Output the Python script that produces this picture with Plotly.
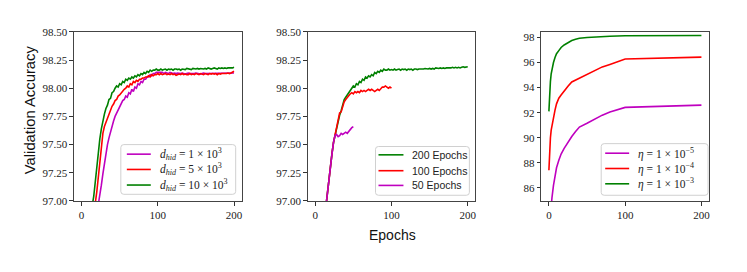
import plotly.graph_objects as go

# ---------------- data ----------------
# Panel 1: hidden dimension (epochs 0..200 step 2)
p1_epochs = list(range(0, 201, 2))
p1_d1 = [94.6, 94.95, 95.3, 95.6, 95.85, 96.08, 96.3, 96.5, 96.66, 96.8,
         96.9, 96.97, 97.04, 97.14, 97.24, 97.34, 97.42, 97.5, 97.56, 97.62,
         97.67, 97.71, 97.75, 97.78, 97.81, 97.84, 97.86, 97.89, 97.9, 97.93,
         97.92, 97.96, 97.95, 97.99, 97.97, 98.01, 98.0, 98.04, 98.03, 98.06,
         98.05, 98.08, 98.08, 98.1, 98.1, 98.12, 98.11, 98.13, 98.13, 98.14,
         98.14,
         98.14, 98.135, 98.14, 98.13, 98.14, 98.135, 98.13, 98.14, 98.135, 98.13,
         98.135, 98.13, 98.135, 98.13, 98.13, 98.135, 98.13, 98.125, 98.13, 98.135,
         98.13, 98.13, 98.125, 98.13, 98.135, 98.13, 98.13, 98.125, 98.13, 98.135,
         98.13, 98.13, 98.135, 98.13, 98.13, 98.135, 98.13, 98.13, 98.135, 98.13,
         98.13, 98.135, 98.13, 98.13, 98.135, 98.13, 98.135, 98.13, 98.135, 98.135]
p1_d5 = [94.9, 95.3, 95.65, 95.95, 96.2, 96.42, 96.62, 96.78, 96.9, 96.98,
         97.08, 97.22, 97.38, 97.52, 97.6, 97.66, 97.7, 97.74, 97.78, 97.8,
         97.84, 97.86, 97.89, 97.9, 97.93, 97.94, 97.96, 97.97, 97.99, 98.0,
         98.02, 98.01, 98.04, 98.03, 98.06, 98.05, 98.07, 98.06, 98.08, 98.08,
         98.09, 98.09, 98.1, 98.1, 98.11, 98.1, 98.12, 98.11, 98.12, 98.12,
         98.13,
         98.12, 98.13, 98.12, 98.125, 98.13, 98.12, 98.125, 98.12, 98.13, 98.12,
         98.125, 98.115, 98.12, 98.125, 98.12, 98.13, 98.12, 98.125, 98.12, 98.12,
         98.13, 98.12, 98.125, 98.12, 98.13, 98.125, 98.12, 98.13, 98.125, 98.12,
         98.13, 98.125, 98.12, 98.13, 98.125, 98.13, 98.125, 98.13, 98.12, 98.13,
         98.125, 98.13, 98.13, 98.125, 98.13, 98.135, 98.13, 98.135, 98.14, 98.15]
p1_d10 = [95.3, 95.7, 96.0, 96.3, 96.55, 96.72, 96.85, 96.96, 97.04, 97.18,
          97.32, 97.44, 97.55, 97.64, 97.72, 97.77, 97.82, 97.85, 97.9, 97.91,
          97.96, 97.97, 98.0, 98.02, 98.01, 98.04, 98.03, 98.06, 98.05, 98.08,
          98.07, 98.09, 98.08, 98.1, 98.09, 98.11, 98.1, 98.12, 98.11, 98.13,
          98.12, 98.14, 98.13, 98.15, 98.14, 98.16, 98.15, 98.16, 98.16, 98.17,
          98.16,
          98.16, 98.17, 98.16, 98.165, 98.17, 98.16, 98.17, 98.165, 98.17, 98.16,
          98.17, 98.17, 98.165, 98.17, 98.16, 98.17, 98.17, 98.165, 98.175, 98.17,
          98.17, 98.165, 98.175, 98.17, 98.17, 98.175, 98.17, 98.175, 98.17, 98.17,
          98.175, 98.17, 98.18, 98.175, 98.17, 98.175, 98.18, 98.175, 98.17, 98.18,
          98.175, 98.18, 98.175, 98.18, 98.175, 98.18, 98.18, 98.175, 98.18, 98.185]

# Panel 2: training length
p2_e200 = list(range(0, 201, 2))
p2_v200 = [95.2, 95.5, 95.8, 96.1, 96.35, 96.6, 96.8, 96.95, 97.08, 97.2,
           97.32, 97.42, 97.52, 97.58, 97.65, 97.7, 97.76, 97.8, 97.86, 97.9,
           97.92, 97.94, 97.95, 97.98, 98.0, 98.02, 98.01, 98.04, 98.03, 98.06,
           98.05, 98.08, 98.07, 98.1, 98.09, 98.11, 98.1, 98.12, 98.11, 98.14,
           98.13, 98.15, 98.14, 98.16, 98.15, 98.17, 98.16, 98.16, 98.17, 98.16,
           98.165,
           98.16, 98.17, 98.16, 98.165, 98.17, 98.16, 98.17, 98.165, 98.17, 98.16,
           98.17, 98.165, 98.17, 98.16, 98.17, 98.17, 98.165, 98.17, 98.17, 98.165,
           98.17, 98.175, 98.17, 98.17, 98.175, 98.17, 98.175, 98.17, 98.18, 98.175,
           98.175, 98.18, 98.175, 98.18, 98.175, 98.18, 98.18, 98.175, 98.18, 98.185,
           98.18, 98.185, 98.18, 98.185, 98.18, 98.185, 98.19, 98.185, 98.19, 98.19]
p2_e100 = list(range(0, 101, 2))
p2_v100 = [95.2, 95.5, 95.8, 96.1, 96.35, 96.6, 96.8, 96.95, 97.08, 97.2,
           97.32, 97.42, 97.52, 97.58, 97.66, 97.69, 97.78, 97.79, 97.84, 97.88,
           97.9, 97.92, 97.94, 97.95, 97.96, 97.95, 97.97, 97.96, 97.97, 97.96,
           97.98, 97.97, 97.98, 97.97, 97.98, 97.99, 97.98, 97.99, 97.98, 97.97,
           97.98, 97.99, 97.98, 98.0, 98.01, 98.01, 98.02, 98.01, 98.0, 98.01,
           98.0]
p2_e50 = list(range(0, 51, 2))
p2_v50 = [95.2, 95.5, 95.8, 96.1, 96.35, 96.6, 96.8, 96.95, 97.08, 97.2,
          97.32, 97.42, 97.52, 97.58, 97.59, 97.57, 97.58, 97.6, 97.59, 97.6,
          97.61, 97.6, 97.62, 97.63, 97.65, 97.66]

# Panel 3: learning rate
p3_epochs = [0, 1, 2, 3, 4, 6, 8, 10, 13, 16, 20, 25, 30, 35, 40, 50, 60, 70, 80, 90, 100, 200]
p3_lr5 = [82.5, 83.3, 84.0, 84.6, 85.2, 86.2, 87.0, 87.6, 88.2, 88.7, 89.15,
          89.65, 90.1, 90.5, 90.85, 91.15, 91.5, 91.8, 92.05, 92.25, 92.42, 92.6]
p3_lr4 = [87.4, 89.0, 90.0, 90.6, 91.0, 91.7, 92.2, 92.7, 93.15, 93.4, 93.75,
          94.1, 94.45, 94.6, 94.75, 95.1, 95.4, 95.65, 95.85, 96.05, 96.28, 96.43]
p3_lr3 = [92.1, 93.6, 94.5, 95.1, 95.5, 96.0, 96.4, 96.7, 96.95, 97.2, 97.4,
          97.6, 97.75, 97.85, 97.93, 98.0, 98.05, 98.08, 98.1, 98.12, 98.13, 98.15]

x_ticks = [0, 100, 200]
acc_ticks = [97.0, 97.25, 97.5, 97.75, 98.0, 98.25, 98.5]
acc_tick_text = ["97.00", "97.25", "97.50", "97.75", "98.00", "98.25", "98.50"]
lr_ticks = [86, 88, 90, 92, 94, 96, 98]

labels1 = ["<i>d<sub>hid</sub></i> = 1 × 10<sup>3</sup>",
           "<i>d<sub>hid</sub></i> = 5 × 10<sup>3</sup>",
           "<i>d<sub>hid</sub></i> = 10 × 10<sup>3</sup>"]
labels2 = ["200 Epochs", "100 Epochs", "50 Epochs"]
labels3 = ["<i>η</i> = 1 × 10<sup>−5</sup>",
           "<i>η</i> = 1 × 10<sup>−4</sup>",
           "<i>η</i> = 1 × 10<sup>−3</sup>"]

# ---------------- style ----------------
MAG, RED, GRN = "#bf00bf", "#ff0000", "#008000"
W, H = 747, 272
LW = 1.6
SERIF = "Liberation Serif"
SANS = "Liberation Sans"

def px_x(p):
    return p / W

def px_y(p):
    return 1 - p / H

fig = go.Figure()

def add(x, y, color, name, xa, ya):
    fig.add_trace(go.Scatter(x=x, y=y, mode="lines", name=name,
                             line=dict(color=color, width=LW),
                             xaxis=xa, yaxis=ya, showlegend=False, hoverinfo="skip"))

add(p1_epochs, p1_d1, MAG, labels1[0], "x", "y")
add(p1_epochs, p1_d5, RED, labels1[1], "x", "y")
add(p1_epochs, p1_d10, GRN, labels1[2], "x", "y")

add(p2_e200, p2_v200, GRN, labels2[0], "x2", "y2")
add(p2_e100, p2_v100, RED, labels2[1], "x2", "y2")
add(p2_e50, p2_v50, MAG, labels2[2], "x2", "y2")

add(p3_epochs, p3_lr5, MAG, labels3[0], "x3", "y3")
add(p3_epochs, p3_lr4, RED, labels3[1], "x3", "y3")
add(p3_epochs, p3_lr3, GRN, labels3[2], "x3", "y3")

axis_common = dict(showline=True, linecolor="#444", linewidth=1, mirror=True,
                   ticks="outside", ticklen=3.5, tickwidth=0.8, tickcolor="#333",
                   showgrid=False, zeroline=False,
                   tickfont=dict(family=SERIF, size=11, color="#222"))

ytop, ybot = px_y(27), px_y(204)
doms = [(74, 242), (308, 476), (542, 710)]

for i, (l, r) in enumerate(doms):
    sfx = "" if i == 0 else str(i + 1)
    fig.layout["xaxis" + sfx] = dict(domain=[px_x(l), px_x(r)], range=[-10, 210],
                                     tickvals=x_ticks, anchor="y" + sfx, **axis_common)
    if i < 2:
        fig.layout["yaxis" + sfx] = dict(domain=[ybot, ytop], range=[97.0, 98.5],
                                         tickvals=acc_ticks, ticktext=acc_tick_text,
                                         anchor="x" + sfx, **axis_common)
    else:
        fig.layout["yaxis" + sfx] = dict(domain=[ybot, ytop], range=[84.95, 98.45],
                                         tickvals=lr_ticks, anchor="x" + sfx, **axis_common)

# ---- custom compact legends (matplotlib-like) ----
shapes, annos = [], []

def rounded_box(x0, y0, x1, y1, r=3):
    X = lambda p: px_x(p)
    Y = lambda p: px_y(p)
    path = (f"M {X(x0 + r)} {Y(y0)} L {X(x1 - r)} {Y(y0)} Q {X(x1)} {Y(y0)} {X(x1)} {Y(y0 + r)} "
            f"L {X(x1)} {Y(y1 - r)} Q {X(x1)} {Y(y1)} {X(x1 - r)} {Y(y1)} "
            f"L {X(x0 + r)} {Y(y1)} Q {X(x0)} {Y(y1)} {X(x0)} {Y(y1 - r)} "
            f"L {X(x0)} {Y(y0 + r)} Q {X(x0)} {Y(y0)} {X(x0 + r)} {Y(y0)} Z")
    return dict(type="path", path=path, xref="paper", yref="paper",
                fillcolor="rgba(255,255,255,0.85)", line=dict(color="#d0d0d0", width=1), layer="above")

legends = [
    dict(box=(121, 145, 236, 197), lx=(127, 151), tx=158, rows=(155, 171, 187.3),
         colors=(MAG, RED, GRN), labels=labels1, font=dict(family=SERIF, size=11.5, color="#222")),
    dict(box=(376, 147, 470, 198), lx=(379, 404), tx=411, rows=(155.7, 172.3, 187.7),
         colors=(GRN, RED, MAG), labels=labels2, font=dict(family=SANS, size=10.5, color="#222")),
    dict(box=(602, 144, 709, 198), lx=(606, 630), tx=637, rows=(154, 170, 186),
         colors=(MAG, RED, GRN), labels=labels3, font=dict(family=SERIF, size=11.5, color="#222")),
]
for lg in legends:
    shapes.append(rounded_box(*lg["box"]))
    for yrow, c, lab in zip(lg["rows"], lg["colors"], lg["labels"]):
        shapes.append(dict(type="line", xref="paper", yref="paper",
                           x0=px_x(lg["lx"][0]), x1=px_x(lg["lx"][1]),
                           y0=px_y(yrow), y1=px_y(yrow), line=dict(color=c, width=LW), layer="above"))
        annos.append(dict(text=lab, x=px_x(lg["tx"]), y=px_y(yrow), xref="paper", yref="paper",
                          showarrow=False, xanchor="left", yanchor="middle", font=lg["font"]))

annos += [
    dict(text="Validation Accuracy", x=px_x(30), y=px_y(108), xref="paper", yref="paper",
         showarrow=False, textangle=-90, font=dict(family=SANS, size=14.8, color="#111"),
         xanchor="center", yanchor="middle"),
    dict(text="Epochs", x=px_x(393), y=px_y(240), xref="paper", yref="paper",
         showarrow=False, font=dict(family=SANS, size=14, color="#111"),
         xanchor="center", yanchor="middle"),
]

fig.update_layout(
    width=W, height=H, margin=dict(l=0, r=0, t=0, b=0),
    paper_bgcolor="white", plot_bgcolor="white",
    showlegend=False, shapes=shapes, annotations=annos,
)

fig.write_html("out.html", config={"displayModeBar": False},
               post_script="document.body.style.margin='0';")
